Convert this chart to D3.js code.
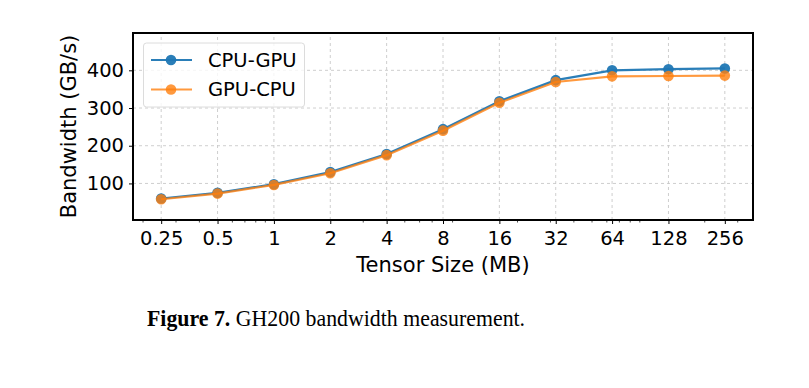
<!DOCTYPE html>
<html>
<head>
<meta charset="utf-8">
<script src="https://cdn.jsdelivr.net/npm/d3@7"></script>
<style>
  body { margin: 0; background: #fff; }
  svg { display: block; }
</style>
</head>
<body>
<div id="chart"></div>
<script>
// data
var sizes = [0.25, 0.5, 1, 2, 4, 8, 16, 32, 64, 128, 256];
var sizeLabels = ["0.25", "0.5", "1", "2", "4", "8", "16", "32", "64", "128", "256"];
var cpuToGpu = [60, 75, 98, 130, 178, 244, 318, 374, 400, 403, 405];
var gpuToCpu = [58, 73, 96, 127, 175, 240, 314, 369, 384, 385, 386];
var yTicks = [100, 200, 300, 400];
var seriesNames = ["CPU-GPU", "GPU-CPU"];

var W = 809, H = 388;
var margin = {top: 33, right: 56, bottom: 168, left: 133};

var svg = d3.select("#chart").append("svg")
    .attr("width", W)
    .attr("height", H);

var x = d3.scaleLog().base(2)
    .domain([0.25 / Math.SQRT2, 256 * Math.SQRT2])
    .range([margin.left, W - margin.right]);

var y = d3.scaleLinear()
    .domain([3, 499])
    .range([H - margin.bottom, margin.top]);

var font = "DejaVu Sans, sans-serif";

// grid
var grid = svg.append("g");
grid.selectAll(".gx")
    .data(sizes)
    .enter().append("line")
    .attr("x1", function(d) { return x(d); })
    .attr("x2", function(d) { return x(d); })
    .attr("y1", y.range()[0])
    .attr("y2", y.range()[1])
    .style("stroke", "#c8c8c8")
    .style("stroke-width", 0.9)
    .style("stroke-dasharray", "3,3");
grid.selectAll(".gy")
    .data(yTicks)
    .enter().append("line")
    .attr("y1", function(d) { return y(d); })
    .attr("y2", function(d) { return y(d); })
    .attr("x1", x.range()[0])
    .attr("x2", x.range()[1])
    .style("stroke", "#c8c8c8")
    .style("stroke-width", 0.9)
    .style("stroke-dasharray", "3,3");

// minor ticks like a log10 axis
var minors = [];
[-1, 0, 1, 2].forEach(function(e) {
    for (var k = 2; k <= 9; k++) {
        var v = k * Math.pow(10, e);
        if (v > x.domain()[0] && v < x.domain()[1] && sizes.indexOf(v) < 0) minors.push(v);
    }
});

var xAxis = svg.append("g")
    .attr("transform", "translate(0," + y.range()[0] + ")")
    .call(d3.axisBottom(x).tickValues(sizes)
        .tickFormat(function(d, i) { return sizeLabels[i]; })
        .tickSize(4).tickPadding(7));
xAxis.select(".domain").remove();
xAxis.selectAll("text").style("font-family", font).style("font-size", "19.5px").attr("fill", "#000");

svg.append("g")
    .attr("transform", "translate(0," + y.range()[0] + ")")
    .selectAll("line")
    .data(minors)
    .enter().append("line")
    .attr("x1", function(d) { return x(d); })
    .attr("x2", function(d) { return x(d); })
    .attr("y1", 0)
    .attr("y2", 2.5)
    .style("stroke", "#000")
    .style("stroke-width", 0.7);

var yAxis = svg.append("g")
    .attr("transform", "translate(" + x.range()[0] + ",0)")
    .call(d3.axisLeft(y).tickValues(yTicks).tickSize(4).tickPadding(5));
yAxis.select(".domain").remove();
yAxis.selectAll("text").style("font-family", font).style("font-size", "19.5px").attr("fill", "#000");

// series
var colors = ["#1f77b4", "#ff7f0e"];
var alphas = [0.95, 0.8];
var line = d3.line()
    .x(function(d, i) { return x(sizes[i]); })
    .y(function(d) { return y(d); });

[cpuToGpu, gpuToCpu].forEach(function(vals, s) {
    var g = svg.append("g");
    g.append("path")
        .datum(vals)
        .attr("d", line)
        .style("fill", "none")
        .style("stroke", colors[s])
        .style("stroke-opacity", alphas[s])
        .style("stroke-width", 2.2);
    g.selectAll("circle")
        .data(vals)
        .enter().append("circle")
        .attr("cx", function(d, i) { return x(sizes[i]); })
        .attr("cy", function(d) { return y(d); })
        .attr("r", 5.3)
        .style("fill", colors[s])
        .style("fill-opacity", alphas[s]);
});

// frame
svg.append("rect")
    .attr("x", x.range()[0])
    .attr("y", y.range()[1])
    .attr("width", x.range()[1] - x.range()[0])
    .attr("height", y.range()[0] - y.range()[1])
    .style("fill", "none")
    .style("stroke", "#000")
    .style("stroke-width", 2);

// legend
var legend = svg.append("g");
legend.append("rect")
    .attr("x", 143.5).attr("y", 43)
    .attr("width", 161).attr("height", 64)
    .attr("rx", 3)
    .style("fill", "#fff")
    .style("fill-opacity", 0.8)
    .style("stroke", "#dcdcdc")
    .style("stroke-width", 1);
seriesNames.forEach(function(name, s) {
    var ly = 60 + s * 29.5;
    legend.append("line")
        .attr("x1", 151).attr("x2", 192)
        .attr("y1", ly).attr("y2", ly)
        .style("stroke", colors[s])
        .style("stroke-opacity", alphas[s])
        .style("stroke-width", 2.2);
    legend.append("circle")
        .attr("cx", 171).attr("cy", ly).attr("r", 5.3)
        .style("fill", colors[s])
        .style("fill-opacity", alphas[s]);
    legend.append("text")
        .attr("x", 208).attr("y", ly)
        .attr("dy", "0.35em")
        .style("font-family", font)
        .style("font-size", "19.5px")
        .text(name);
});

// axis labels
svg.append("text")
    .attr("transform", "translate(76," + ((y.range()[0] + y.range()[1]) / 2) + ") rotate(-90)")
    .attr("text-anchor", "middle")
    .style("font-family", font)
    .style("font-size", "21px")
    .text("Bandwidth (GB/s)");

svg.append("text")
    .attr("x", (x.range()[0] + x.range()[1]) / 2)
    .attr("y", 272)
    .attr("text-anchor", "middle")
    .style("font-family", font)
    .style("font-size", "21px")
    .text("Tensor Size (MB)");

// caption (serif, slightly narrowed to match the paper font)
var cap = svg.append("text")
    .attr("transform", "translate(147,326) scale(0.95,1)")
    .style("font-family", "Liberation Serif, serif")
    .style("font-size", "23px");
cap.append("tspan").style("font-weight", "bold").text("Figure 7.");
cap.append("tspan").text(" GH200 bandwidth measurement.");
</script>
</body>
</html>
